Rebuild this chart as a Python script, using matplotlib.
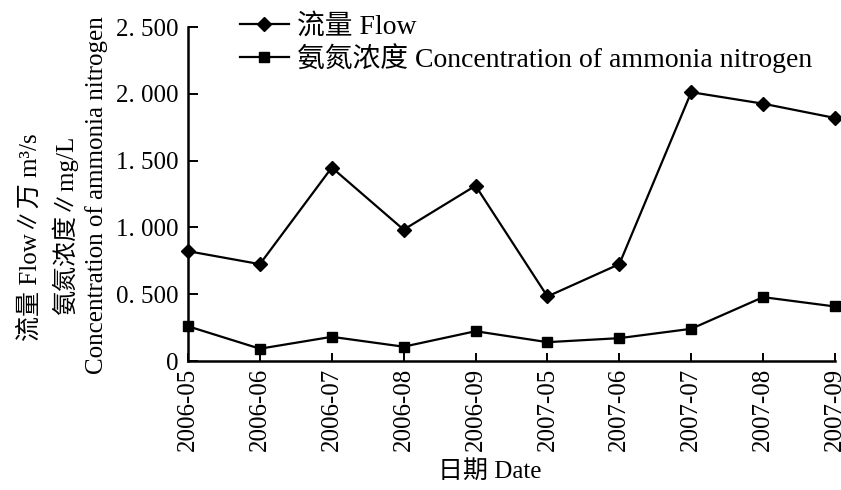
import matplotlib
matplotlib.use("Agg")
import matplotlib.pyplot as plt

plt.rcParams['font.family'] = ['Liberation Serif', 'Noto Sans CJK SC', 'DejaVu Sans']
plt.rcParams['font.size'] = 18

dates = ["2006-05", "2006-06", "2006-07", "2006-08", "2006-09",
         "2007-05", "2007-06", "2007-07", "2007-08", "2007-09"]
flow = [0.822, 0.725, 1.448, 0.983, 1.312, 0.483, 0.725, 2.012, 1.926, 1.819]
ammonia = [0.260, 0.092, 0.181, 0.107, 0.223, 0.141, 0.171, 0.241, 0.478, 0.408]
ytick_vals = [0, 0.5, 1.0, 1.5, 2.0, 2.5]
ytick_labels = ["0", "0. 500", "1. 000", "1. 500", "2. 000", "2. 500"]

fig = plt.figure(figsize=(8.41, 4.90), dpi=100)
ax = fig.add_axes([188/841, 1-361/490, (835-188)/841, (361-27)/490])

x = list(range(len(dates)))
l1, = ax.plot(x, flow, color='black', lw=1.6, marker='D', markersize=7.5,
              label="流量 Flow", clip_on=False, zorder=3)
l2, = ax.plot(x, ammonia, color='black', lw=1.6, marker='s', markersize=7,
              label="氨氮浓度 Concentration of ammonia nitrogen", clip_on=False, zorder=3)

ax.set_xlim(0, len(dates) - 1)
ax.set_ylim(0, 2.5)
ax.set_xticks(x)
ax.set_xticklabels(dates, rotation=90)
ax.set_yticks(ytick_vals)
ax.set_yticklabels(ytick_labels)
ax.tick_params(axis='y', direction='in', length=7, width=1.4, pad=7)
ax.tick_params(axis='x', direction='in', length=6, width=1.4, pad=5)
for s in ['top', 'right']:
    ax.spines[s].set_visible(False)
for s in ['left', 'bottom']:
    ax.spines[s].set_linewidth(1.8)

leg = fig.legend(handles=[l1, l2], loc='upper left',
                 bbox_to_anchor=(240/841, 1 - 14/490), frameon=False,
                 fontsize=20, handlelength=1.75, handletextpad=0.3,
                 labelspacing=0.12, borderpad=0, borderaxespad=0)

fig.text(30/841, 1 - 237/490, "流量 Flow∥万 m³/s", rotation=90, ha='center', va='center')
fig.text(65/841, 1 - 225/490, "氨氮浓度∥mg/L", rotation=90, ha='center', va='center')
fig.text(97/841, 1 - 195/490, "Concentration of ammonia nitrogen", rotation=90, ha='center', va='center')
fig.text(490/841, 1 - 471/490, "日期 Date", ha='center', va='center')

fig.savefig("out.png", dpi=100)
